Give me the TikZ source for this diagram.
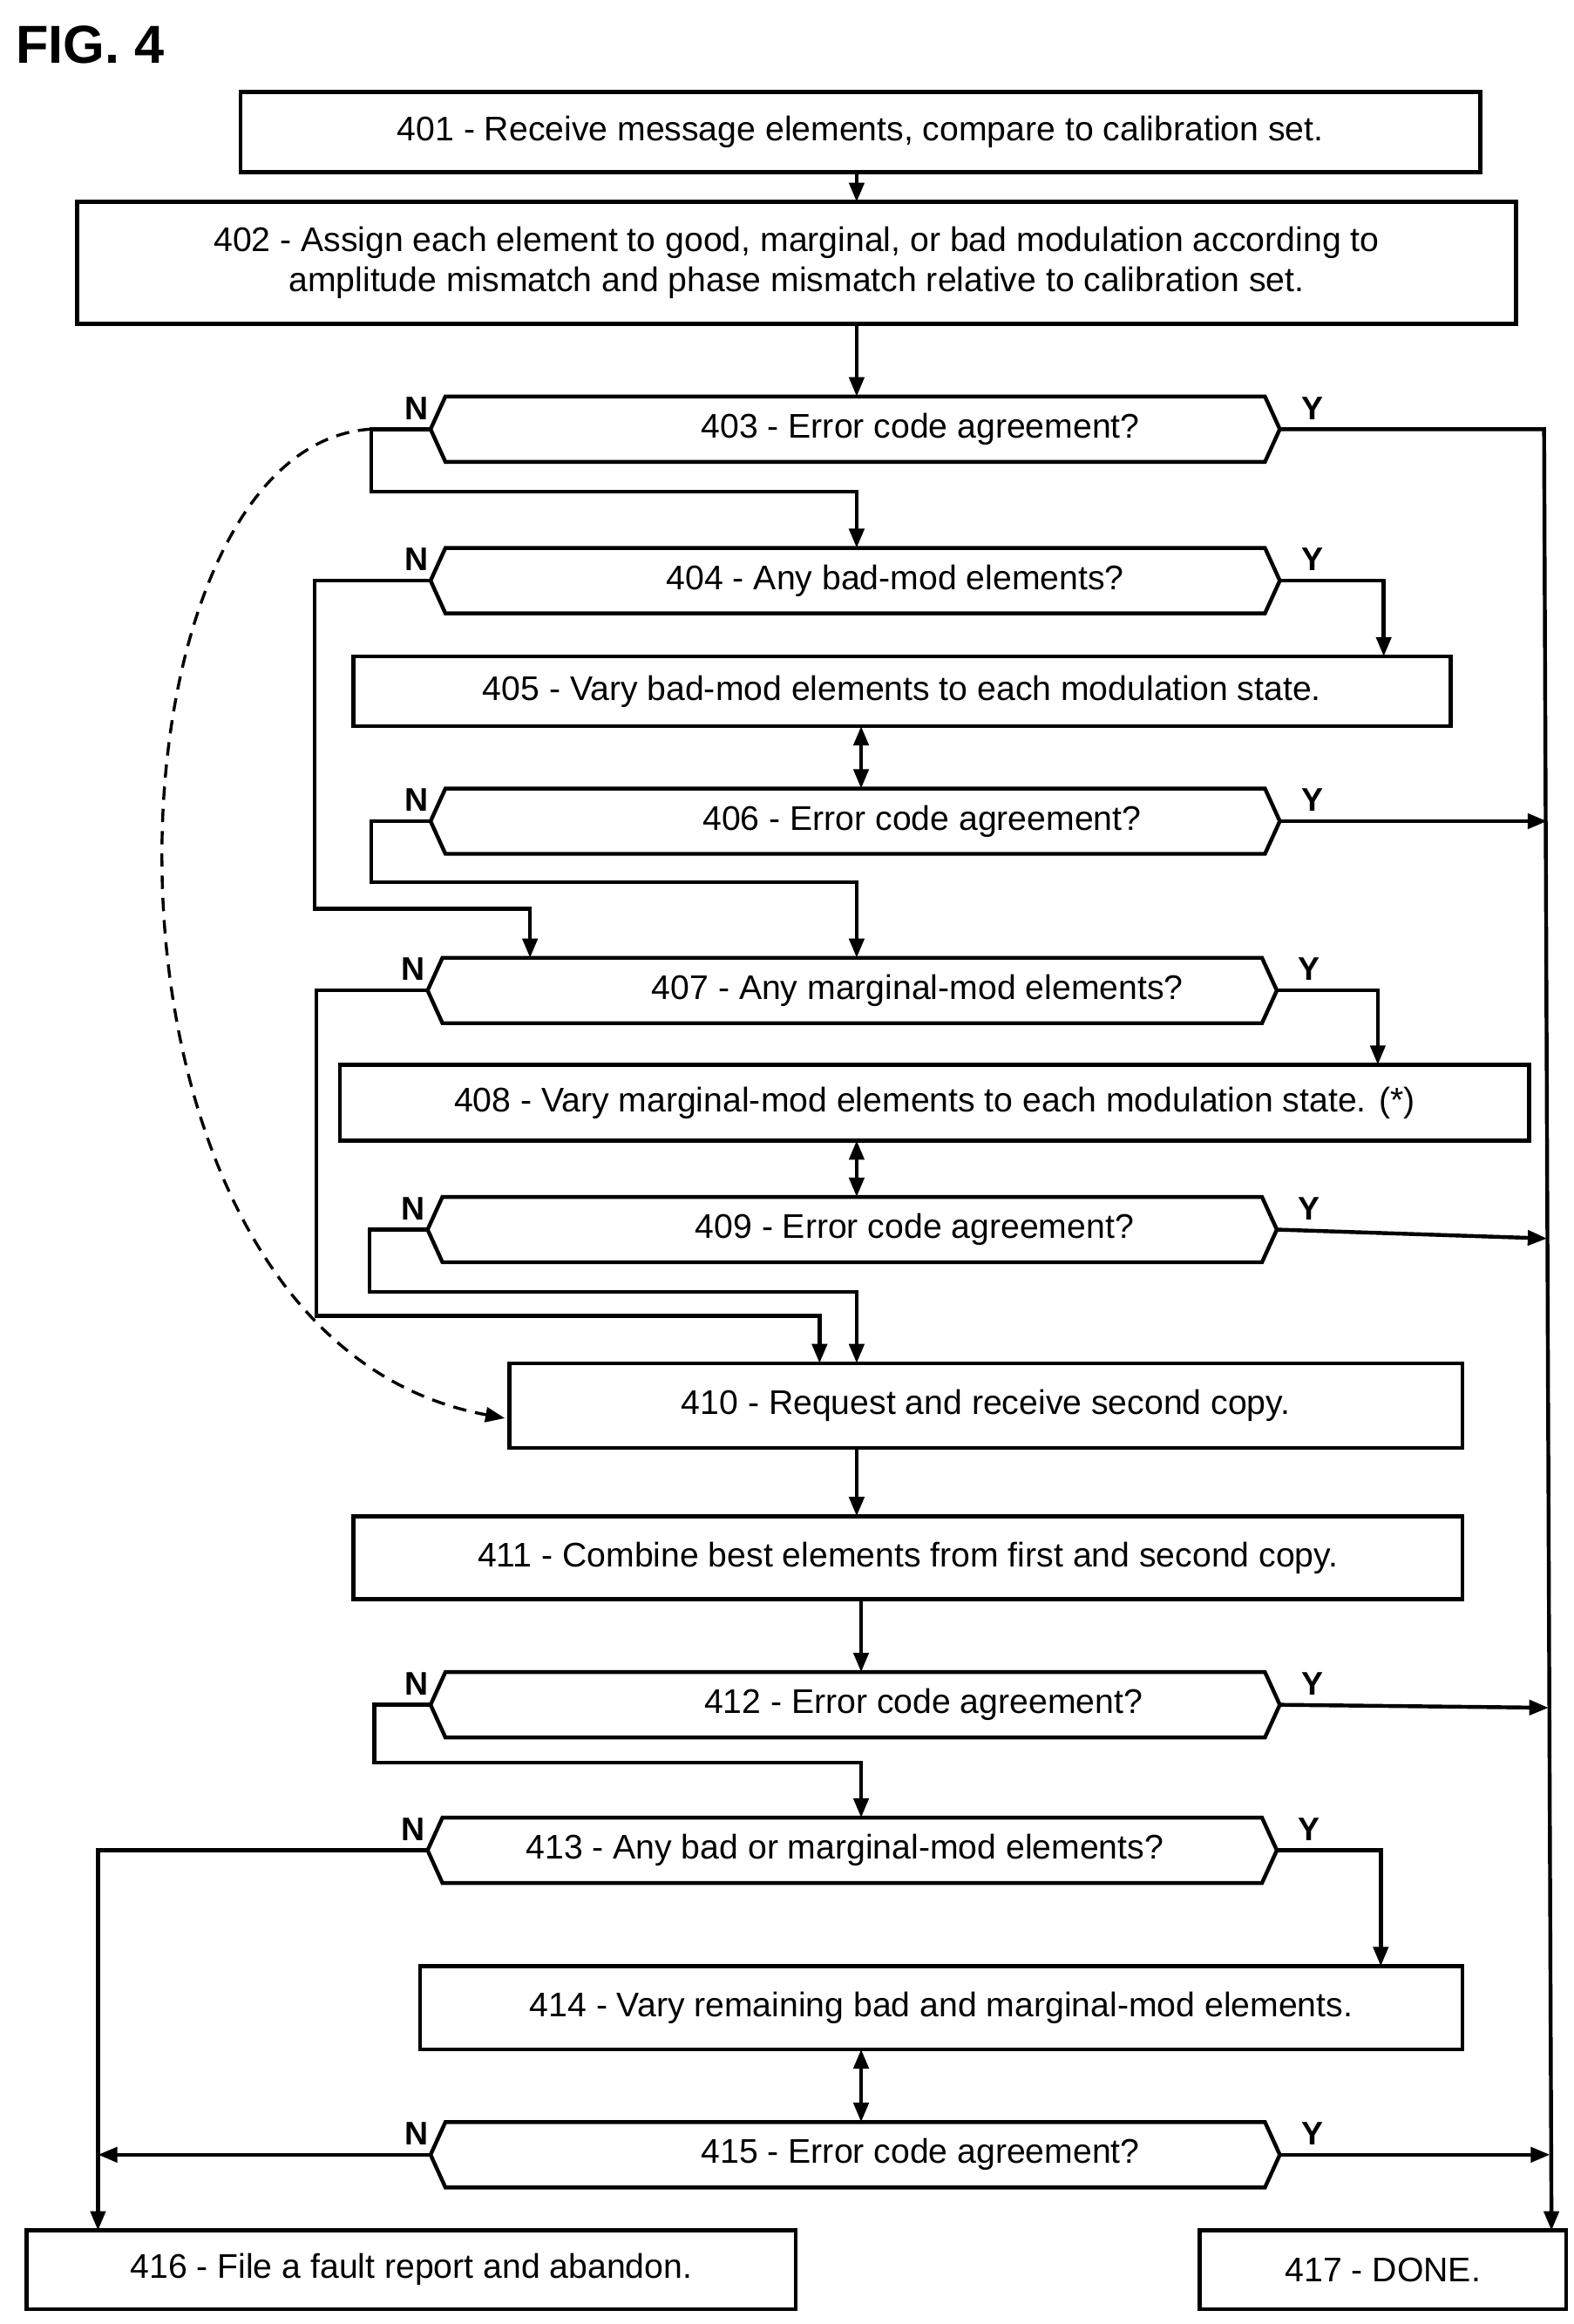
\documentclass[tikz,border=0pt]{standalone}
\usepackage{fontspec}
\setmainfont{Liberation Sans}
\usetikzlibrary{arrows.meta}
\begin{document}
\begin{tikzpicture}[x=1pt,y=-1pt,line width=2.6pt,
  every node/.style={font=\fontsize{23}{27}\selectfont},
  box/.style={draw,rectangle,inner sep=0pt,align=center},
  lab/.style={font=\fontsize{22}{24}\selectfont\bfseries},
  arr/.style={-{Triangle[length=13pt,width=10pt]}},
  darr/.style={{Triangle[length=13pt,width=10pt]}-{Triangle[length=13pt,width=10pt]}}]
\useasboundingbox (0,0) rectangle (1060,1565);
\newcommand{\hexa}[5]{% name, xl, xr, y, textx
  \draw (#2,#4) -- (#2+10,#4-22) -- (#3-10,#4-22) -- (#3,#4) -- (#3-10,#4+22) -- (#2+10,#4+22) -- cycle;
  \coordinate (#1w) at (#2,#4); \coordinate (#1e) at (#3,#4);
  \coordinate (#1t) at ({(#2+#3)/2},#4-22);
  \node[lab,anchor=south east] at (#2+3,#4-2) {N};
  \node[lab,anchor=south west] at (#3+10,#4-2) {Y};}
\node[anchor=west,font=\fontsize{36}{40}\selectfont\bfseries] (fig) at (6,30) {FIG. 4};
\node[box,minimum width=835pt,minimum height=54pt] (b401) at (579.5,89) {401 - Receive message elements, compare to calibration set.};
\node[box,minimum width=969pt,minimum height=82pt] (b402) at (536.5,177) {402 - Assign each element to good, marginal, or bad modulation according to\\amplitude mismatch and phase mismatch relative to calibration set.};
\hexa{h403}{290}{862}{289}{}
\node (t403) at (620,289) {403 - Error code agreement?};
\hexa{h404}{290}{862}{391}{}
\node (t404) at (603,391) {404 - Any bad-mod elements?};
\node[box,minimum width=739pt,minimum height=47pt] (b405) at (607.5,465.5) {405 - Vary bad-mod elements to each modulation state.};
\hexa{h406}{290}{862}{553}{}
\node (t406) at (621,553) {406 - Error code agreement?};
\hexa{h407}{288}{860}{667}{}
\node (t407) at (618,667) {407 - Any marginal-mod elements?};
\node[box,minimum width=801pt,minimum height=51pt] (b408) at (629.5,742.5) {408 - Vary marginal-mod elements to each modulation state. (*)};
\hexa{h409}{288}{860}{828}{}
\node (t409) at (616,828) {409 - Error code agreement?};
\node[box,minimum width=642pt,minimum height=57pt] (b410) at (664,946.5) {410 - Request and receive second copy.};
\node[box,minimum width=747pt,minimum height=56pt] (b411) at (611.5,1049) {411 - Combine best elements from first and second copy.};
\hexa{h412}{290}{862}{1148}{}
\node (t412) at (622,1148) {412 - Error code agreement?};
\hexa{h413}{288}{860}{1246}{}
\node (t413) at (569,1246) {413 - Any bad or marginal-mod elements?};
\node[box,minimum width=702pt,minimum height=56pt] (b414) at (634,1352) {414 - Vary remaining bad and marginal-mod elements.};
\hexa{h415}{290}{862}{1451}{}
\node (t415) at (620,1451) {415 - Error code agreement?};
\node[box,minimum width=518pt,minimum height=53pt] (b416) at (277,1528.5) {416 - File a fault report and abandon.};
\node[box,minimum width=247pt,minimum height=53pt] (b417) at (931.5,1528.5) {417 - DONE.};
% coordinates
\coordinate (rtop) at (1040,289);
\coordinate (rbot) at (1045,1502);
\coordinate (c403a) at (250,289);
% connectors
\draw[arr] (577,116) -- (577,136);
\draw[arr] (577,218) -- (577,267);
\draw[arr] (h403w) -- (250,289) -- (250,331) -- (577,331) -- (577,369);
\draw[arr] (h403e) -- (rtop) -- (rbot);
\draw[arr,dashed,line width=2pt,dash pattern=on 9pt off 6pt] (c403a) .. controls (60,300) and (40,900) .. (340,955);
\draw[arr] (h404w) -- (212,391) -- (212,612) -- (357,612) -- (357,645);
\draw[arr] (h404e) -- (932,391) -- (932,442);
\draw[darr] (580,489) -- (580,531);
\draw[arr] (h406w) -- (250,553) -- (250,594) -- (577,594) -- (577,645);
\draw[arr] (h406e) -- (1042,553);
\draw[arr] (h407w) -- (213,667) -- (213,886) -- (552,886) -- (552,918);
\draw[arr] (h407e) -- (928,667) -- (928,717);
\draw[darr] (577,768) -- (577,806);
\draw[arr] (h409w) -- (249,828) -- (249,870) -- (577,870) -- (577,918);
\draw[arr] (h409e) -- (1042,834);
\draw[arr] (577,975) -- (577,1021);
\draw[arr] (580,1077) -- (580,1126);
\draw[arr] (h412w) -- (252,1148) -- (252,1187) -- (580,1187) -- (580,1224);
\draw[arr] (h412e) -- (1043,1150);
\draw[arr] (h413w) -- (66,1246) -- (66,1502);
\draw[arr] (h413e) -- (930,1246) -- (930,1324);
\draw[darr] (580,1380) -- (580,1429);
\draw[arr] (h415w) -- (66,1451);
\draw[arr] (h415e) -- (1044,1451);
\end{tikzpicture}
\end{document}
